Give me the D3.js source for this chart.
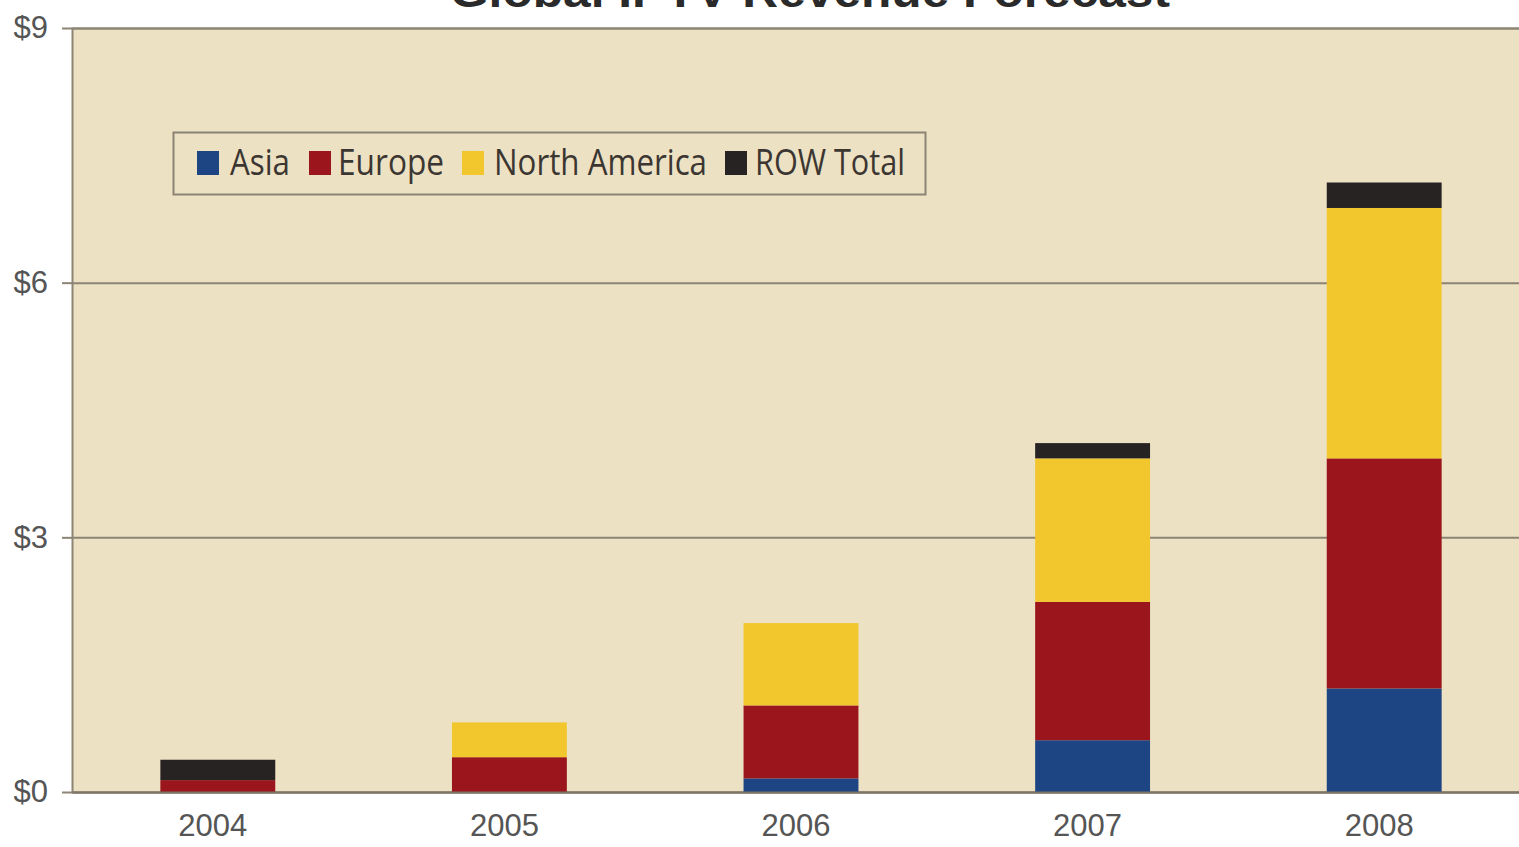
<!DOCTYPE html>
<html>
<head>
<meta charset="utf-8">
<script src="https://cdn.jsdelivr.net/npm/d3@7"></script>
<style>
  html, body { margin: 0; padding: 0; background: #ffffff; overflow: hidden; }
  svg { display: block; }
</style>
</head>
<body>
<svg id="chart" width="1519" height="847"></svg>
<script>
// Data (US$ billions)
const years = ["2004", "2005", "2006", "2007", "2008"];
const regions = ["Asia", "Europe", "North America", "ROW Total"];
const asia = [0.00, 0.00, 0.16, 0.61, 1.22];
const europe = [0.14, 0.41, 0.86, 1.63, 2.71];
const northAmerica = [0.00, 0.41, 0.97, 1.69, 2.95];
const rowTotal = [0.24, 0.00, 0.00, 0.18, 0.30];
const yTicks = [0, 3, 6, 9];
const title = "Global IPTV Revenue Forecast";

const colors = ["#1d4584", "#9a161c", "#f2c72e", "#272323"];
const seriesValues = [asia, europe, northAmerica, rowTotal];

const svg = d3.select("#chart");
const margin = { left: 72, top: 28, right: -11, bottom: 55 };
const width = 1519, height = 847;

const rows = years.map((yr, i) => {
    const r = { year: yr };
    regions.forEach((reg, k) => r[reg] = seriesValues[k][i]);
    return r;
});

const x = d3.scaleBand()
    .domain(years)
    .range([margin.left, width - margin.right])
    .paddingInner(0.606)
    .paddingOuter(0.303);

const y = d3.scaleLinear()
    .domain([0, 9])
    .range([height - margin.bottom, margin.top]);

// Plot background
svg.append("rect")
    .attr("x", margin.left)
    .attr("y", y(9))
    .attr("width", width - margin.right - margin.left)
    .attr("height", y(0) - y(9))
    .attr("fill", "#ede1c3");

// Title (mostly cropped off at top, as in the source image)
svg.append("text")
    .attr("x", 810)
    .attr("y", 7)
    .attr("text-anchor", "middle")
    .attr("font-family", "'Liberation Sans', Arial, sans-serif")
    .attr("font-weight", "bold")
    .attr("font-size", 44)
    .attr("textLength", 720)
    .attr("lengthAdjust", "spacingAndGlyphs")
    .attr("fill", "#2a2a2a")
    .text(title);

// Gridlines + y axis
const yAxis = d3.axisLeft(y)
    .tickValues(yTicks)
    .tickSize(-(width - margin.right - margin.left))
    .tickPadding(22)
    .tickFormat(d => "$" + d);

const gy = svg.append("g")
    .attr("transform", `translate(${margin.left},0)`)
    .call(yAxis);
gy.select(".domain").attr("stroke", "#8c8474").attr("stroke-width", 2);
gy.selectAll(".tick line").attr("stroke", "#8c8474").attr("stroke-width", 2);
gy.selectAll(".tick").append("line")
    .attr("x1", -10).attr("x2", 0)
    .attr("stroke", "#8c8474").attr("stroke-width", 2);
gy.selectAll(".tick text")
    .attr("font-family", "'Liberation Sans', Arial, sans-serif")
    .attr("font-size", 31)
    .attr("dx", -2)
    .attr("fill", "#555");

// Stacked bars
const stack = d3.stack().keys(regions);
const layers = stack(rows);

svg.append("g")
    .selectAll("g")
    .data(layers)
    .join("g")
    .attr("fill", (d, i) => colors[i])
    .selectAll("rect")
    .data(d => d)
    .join("rect")
    .attr("x", d => x(d.data.year))
    .attr("width", x.bandwidth())
    .attr("y", d => y(d[1]))
    .attr("height", d => y(d[0]) - y(d[1]));

// X axis
const gx = svg.append("g")
    .attr("transform", `translate(0,${y(0)})`)
    .call(d3.axisBottom(x).tickSize(0).tickPadding(22));
gx.select(".domain").attr("stroke", "#7d7566").attr("stroke-width", 2);
gx.selectAll(".tick text")
    .attr("font-family", "'Liberation Sans', Arial, sans-serif")
    .attr("font-size", 31)
    .attr("dx", -5)
    .attr("fill", "#555");

// Legend
const legend = svg.append("g");
legend.append("rect")
    .attr("x", 173.5).attr("y", 132.5)
    .attr("width", 752).attr("height", 62)
    .attr("fill", "none")
    .attr("stroke", "#8c8474")
    .attr("stroke-width", 2);

const legendSwatchX = [197, 309, 462, 725];
const legendTextX = [230, 338, 494, 755];
const legendTextW = [60, 106, 213, 150];

regions.forEach((reg, i) => {
    legend.append("rect")
        .attr("x", legendSwatchX[i]).attr("y", 151)
        .attr("width", 22).attr("height", 24)
        .attr("fill", colors[i]);
    legend.append("text")
        .attr("x", legendTextX[i])
        .attr("y", 175)
        .attr("font-family", "'Open Sans', 'Noto Sans', sans-serif")
        .attr("font-size", 36)
        .attr("textLength", legendTextW[i])
        .attr("lengthAdjust", "spacingAndGlyphs")
        .attr("fill", "#3b3631")
        .text(reg);
});
</script>
</body>
</html>
